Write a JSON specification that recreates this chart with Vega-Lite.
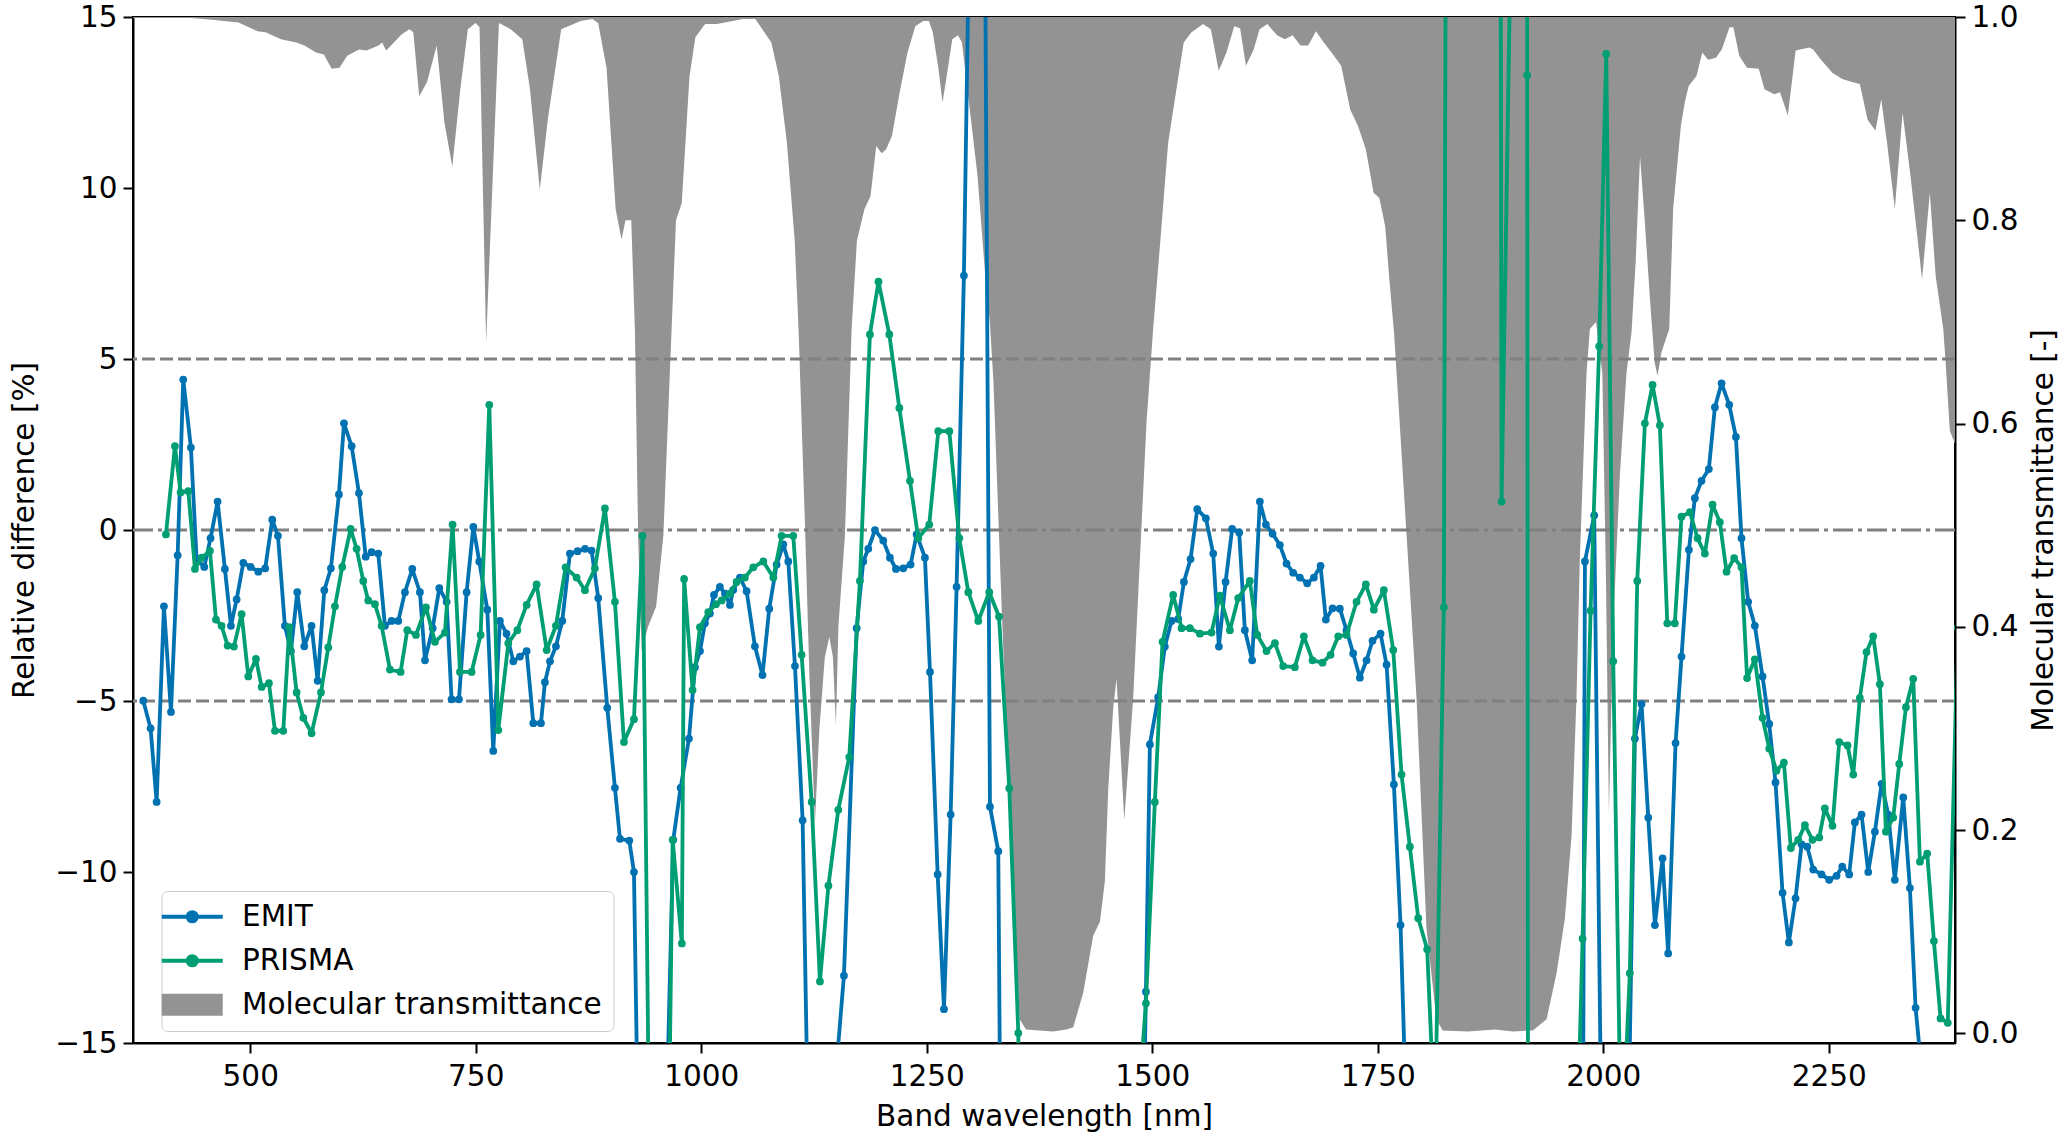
{
 "$schema": "https://vega.github.io/schema/vega-lite/v6.json",
 "width": 1822, "height": 1026,
 "autosize": {"type": "none"},
 "padding": {"left": 133, "top": 17, "right": 106, "bottom": 96},
 "background": "white",
 "config": {
   "font": "DejaVu Sans",
   "view": {"stroke": "black", "strokeWidth": 2},
   "axis": {"grid": false, "labelFont": "DejaVu Sans", "titleFont": "DejaVu Sans", "labelFontSize": 29.5, "titleFontSize": 29.5, "titleFontWeight": "normal", "labelColor": "#000", "titleColor": "#000", "domainColor": "#000", "domainWidth": 2, "tickColor": "#000", "tickWidth": 2, "tickSize": 10, "labelPadding": 6}
 },
 "datasets": {
  "trans": [{"nm":370,"t":0.999},{"nm":435,"t":0.999},{"nm":460,"t":0.997},{"nm":487,"t":0.9945},{"nm":508,"t":0.986},{"nm":517,"t":0.985},{"nm":534,"t":0.978},{"nm":551,"t":0.975},{"nm":560,"t":0.972},{"nm":573,"t":0.965},{"nm":581.6,"t":0.963},{"nm":590.3,"t":0.949},{"nm":598.9,"t":0.95},{"nm":607.5,"t":0.962},{"nm":620.5,"t":0.968},{"nm":629,"t":0.967},{"nm":642,"t":0.972},{"nm":646.3,"t":0.975},{"nm":650.6,"t":0.967},{"nm":659.3,"t":0.975},{"nm":667.9,"t":0.983},{"nm":676.5,"t":0.988},{"nm":680.8,"t":0.985},{"nm":687.3,"t":0.922},{"nm":696,"t":0.936},{"nm":706.7,"t":0.972},{"nm":715.3,"t":0.896},{"nm":724,"t":0.853},{"nm":733,"t":0.93},{"nm":741.2,"t":0.988},{"nm":749.8,"t":0.994},{"nm":754.2,"t":0.99},{"nm":761.5,"t":0.68},{"nm":775.7,"t":0.994},{"nm":788.7,"t":0.988},{"nm":801.6,"t":0.978},{"nm":810,"t":0.93},{"nm":821,"t":0.83},{"nm":830,"t":0.9},{"nm":844.7,"t":0.988},{"nm":866.3,"t":0.996},{"nm":879.2,"t":0.998},{"nm":885.7,"t":0.994},{"nm":895,"t":0.95},{"nm":905.1,"t":0.811},{"nm":911.6,"t":0.781},{"nm":916,"t":0.8},{"nm":922.4,"t":0.8},{"nm":926.5,"t":0.69},{"nm":930,"t":0.49},{"nm":934,"t":0.376},{"nm":941,"t":0.4},{"nm":950,"t":0.42},{"nm":958,"t":0.49},{"nm":967,"t":0.69},{"nm":972,"t":0.8},{"nm":978.4,"t":0.817},{"nm":987,"t":0.942},{"nm":993.5,"t":0.98},{"nm":1004.3,"t":0.993},{"nm":1017.2,"t":0.993},{"nm":1046.6,"t":0.998},{"nm":1060,"t":0.998},{"nm":1077.7,"t":0.975},{"nm":1086,"t":0.942},{"nm":1095,"t":0.876},{"nm":1103.6,"t":0.78},{"nm":1108,"t":0.69},{"nm":1115,"t":0.5},{"nm":1120,"t":0.35},{"nm":1126,"t":0.206},{"nm":1131,"t":0.3},{"nm":1137,"t":0.37},{"nm":1142,"t":0.39},{"nm":1146,"t":0.37},{"nm":1149.3,"t":0.303},{"nm":1152,"t":0.4},{"nm":1159.3,"t":0.49},{"nm":1166.7,"t":0.693},{"nm":1172.6,"t":0.78},{"nm":1181,"t":0.811},{"nm":1187.7,"t":0.824},{"nm":1194,"t":0.873},{"nm":1200,"t":0.866},{"nm":1205,"t":0.87},{"nm":1211.4,"t":0.883},{"nm":1220,"t":0.926},{"nm":1228.7,"t":0.965},{"nm":1237.3,"t":0.991},{"nm":1246,"t":0.996},{"nm":1252.4,"t":0.996},{"nm":1256.7,"t":0.985},{"nm":1263,"t":0.949},{"nm":1267.5,"t":0.916},{"nm":1271.8,"t":0.94},{"nm":1278.3,"t":0.978},{"nm":1284.7,"t":0.982},{"nm":1289,"t":0.975},{"nm":1297.7,"t":0.909},{"nm":1306.3,"t":0.844},{"nm":1314.9,"t":0.745},{"nm":1320,"t":0.7},{"nm":1324,"t":0.64},{"nm":1333,"t":0.42},{"nm":1343,"t":0.2},{"nm":1353,"t":0.014},{"nm":1360,"t":0.004},{"nm":1375,"t":0.003},{"nm":1390,"t":0.002},{"nm":1405,"t":0.004},{"nm":1412.4,"t":0.006},{"nm":1423.5,"t":0.04},{"nm":1434.5,"t":0.096},{"nm":1442,"t":0.11},{"nm":1447.5,"t":0.15},{"nm":1451.2,"t":0.24},{"nm":1456.7,"t":0.32},{"nm":1460.4,"t":0.349},{"nm":1469,"t":0.21},{"nm":1478.9,"t":0.33},{"nm":1486.3,"t":0.466},{"nm":1493.7,"t":0.602},{"nm":1501,"t":0.693},{"nm":1509,"t":0.78},{"nm":1517.6,"t":0.876},{"nm":1526.3,"t":0.926},{"nm":1534.9,"t":0.975},{"nm":1543.5,"t":0.985},{"nm":1556.4,"t":0.993},{"nm":1565,"t":0.988},{"nm":1573.7,"t":0.947},{"nm":1582.3,"t":0.965},{"nm":1590.9,"t":0.991},{"nm":1597.4,"t":0.989},{"nm":1603.9,"t":0.952},{"nm":1612.5,"t":0.968},{"nm":1619,"t":0.988},{"nm":1627.6,"t":0.993},{"nm":1638.4,"t":0.982},{"nm":1647,"t":0.978},{"nm":1655.6,"t":0.982},{"nm":1664.3,"t":0.972},{"nm":1672.9,"t":0.972},{"nm":1681.5,"t":0.986},{"nm":1690.2,"t":0.975},{"nm":1698.8,"t":0.965},{"nm":1709.5,"t":0.952},{"nm":1719.5,"t":0.909},{"nm":1728,"t":0.893},{"nm":1736.8,"t":0.87},{"nm":1745.4,"t":0.827},{"nm":1751.8,"t":0.822},{"nm":1758.3,"t":0.794},{"nm":1762.6,"t":0.745},{"nm":1768,"t":0.69},{"nm":1773,"t":0.62},{"nm":1782,"t":0.49},{"nm":1793,"t":0.33},{"nm":1804,"t":0.104},{"nm":1815,"t":0.014},{"nm":1822,"t":0.003},{"nm":1850,"t":0.002},{"nm":1880,"t":0.004},{"nm":1900,"t":0.002},{"nm":1922,"t":0.003},{"nm":1937.2,"t":0.014},{"nm":1948.2,"t":0.059},{"nm":1957.5,"t":0.113},{"nm":1964.9,"t":0.195},{"nm":1970.4,"t":0.332},{"nm":1974.1,"t":0.468},{"nm":1977.8,"t":0.559},{"nm":1981.5,"t":0.65},{"nm":1985.2,"t":0.693},{"nm":1992,"t":0.7},{"nm":1999,"t":0.65},{"nm":2003,"t":0.45},{"nm":2006.3,"t":0.217},{"nm":2011,"t":0.4},{"nm":2018.5,"t":0.55},{"nm":2025.8,"t":0.65},{"nm":2031.4,"t":0.69},{"nm":2036,"t":0.76},{"nm":2040.8,"t":0.863},{"nm":2046,"t":0.8},{"nm":2052,"t":0.72},{"nm":2057,"t":0.66},{"nm":2060.2,"t":0.647},{"nm":2064.5,"t":0.67},{"nm":2073.2,"t":0.693},{"nm":2077.5,"t":0.811},{"nm":2086.1,"t":0.893},{"nm":2090.4,"t":0.916},{"nm":2094.7,"t":0.932},{"nm":2103.4,"t":0.942},{"nm":2109.8,"t":0.965},{"nm":2116.3,"t":0.958},{"nm":2124.9,"t":0.96},{"nm":2131.4,"t":0.968},{"nm":2140,"t":0.99},{"nm":2144.3,"t":0.99},{"nm":2150.8,"t":0.962},{"nm":2159.4,"t":0.95},{"nm":2172.4,"t":0.949},{"nm":2178.8,"t":0.929},{"nm":2189.6,"t":0.924},{"nm":2196,"t":0.926},{"nm":2204.7,"t":0.903},{"nm":2213.3,"t":0.967},{"nm":2228.4,"t":0.97},{"nm":2232.7,"t":0.968},{"nm":2241.4,"t":0.958},{"nm":2254.3,"t":0.945},{"nm":2265.1,"t":0.939},{"nm":2275.9,"t":0.936},{"nm":2284.5,"t":0.934},{"nm":2293.1,"t":0.899},{"nm":2301.8,"t":0.888},{"nm":2308.2,"t":0.919},{"nm":2314.7,"t":0.876},{"nm":2323.3,"t":0.811},{"nm":2331.9,"t":0.906},{"nm":2340.6,"t":0.844},{"nm":2353.5,"t":0.742},{"nm":2362.1,"t":0.827},{"nm":2368.6,"t":0.745},{"nm":2377,"t":0.693},{"nm":2379.4,"t":0.663},{"nm":2384.3,"t":0.593},{"nm":2390,"t":0.58}],
  "emit": [{"nm":381.4,"v":-4.99},{"nm":389.5,"v":-5.8},{"nm":396.2,"v":-7.95},{"nm":404.3,"v":-2.23},{"nm":412.1,"v":-5.32},{"nm":419.5,"v":-0.74},{"nm":425.7,"v":4.4},{"nm":434.2,"v":2.41},{"nm":440.5,"v":-0.85},{"nm":449,"v":-1.08},{"nm":456,"v":-0.24},{"nm":463.8,"v":0.83},{"nm":471.9,"v":-1.14},{"nm":478.6,"v":-2.8},{"nm":484.9,"v":-2.03},{"nm":492.3,"v":-0.96},{"nm":500.4,"v":-1.08},{"nm":508.9,"v":-1.22},{"nm":516.6,"v":-1.12},{"nm":524.4,"v":0.3},{"nm":530.7,"v":-0.17},{"nm":538.4,"v":-2.8},{"nm":545.1,"v":-3.54},{"nm":552.1,"v":-1.82},{"nm":559.9,"v":-3.4},{"nm":568,"v":-2.8},{"nm":574.7,"v":-4.41},{"nm":582.1,"v":-1.76},{"nm":589.4,"v":-1.12},{"nm":598.3,"v":1.04},{"nm":603.9,"v":3.12},{"nm":612.4,"v":2.45},{"nm":620.5,"v":1.08},{"nm":628,"v":-0.78},{"nm":634.5,"v":-0.65},{"nm":641.9,"v":-0.69},{"nm":649.3,"v":-2.8},{"nm":656.7,"v":-2.66},{"nm":664.1,"v":-2.66},{"nm":671.5,"v":-1.82},{"nm":679.6,"v":-1.14},{"nm":688.1,"v":-1.82},{"nm":693.7,"v":-3.81},{"nm":702.2,"v":-2.87},{"nm":709.6,"v":-1.7},{"nm":717.7,"v":-2.1},{"nm":723.2,"v":-4.95},{"nm":731.4,"v":-4.95},{"nm":739.9,"v":-1.82},{"nm":747.3,"v":0.09},{"nm":753.9,"v":-0.92},{"nm":762.8,"v":-2.33},{"nm":769.4,"v":-6.46},{"nm":776.8,"v":-2.66},{"nm":784.2,"v":-3.03},{"nm":791.6,"v":-3.84},{"nm":799,"v":-3.7},{"nm":806.4,"v":-3.54},{"nm":813.8,"v":-5.65},{"nm":822.3,"v":-5.65},{"nm":826.7,"v":-4.45},{"nm":832.3,"v":-3.84},{"nm":838.9,"v":-3.4},{"nm":845.9,"v":-2.66},{"nm":854.4,"v":-0.69},{"nm":862.9,"v":-0.62},{"nm":871.1,"v":-0.55},{"nm":878.4,"v":-0.6},{"nm":885.8,"v":-1.99},{"nm":895.8,"v":-5.2},{"nm":904.3,"v":-7.54},{"nm":909.9,"v":-9.03},{"nm":920.2,"v":-9.08},{"nm":925.4,"v":-10},{"nm":932.8,"v":-22.5},{"nm":940.2,"v":-45},{"nm":947.6,"v":-60},{"nm":955,"v":-45},{"nm":961.6,"v":-17},{"nm":969,"v":-9.06},{"nm":977.1,"v":-7.54},{"nm":986.4,"v":-6.1},{"nm":993,"v":-4.01},{"nm":998.6,"v":-3.54},{"nm":1004.1,"v":-2.73},{"nm":1009.6,"v":-2.44},{"nm":1014.1,"v":-1.9},{"nm":1020.7,"v":-1.66},{"nm":1026.3,"v":-1.86},{"nm":1031.8,"v":-2.19},{"nm":1035.5,"v":-1.75},{"nm":1042.9,"v":-1.39},{"nm":1050.3,"v":-1.79},{"nm":1059.5,"v":-3.4},{"nm":1067.9,"v":-4.24},{"nm":1075.4,"v":-2.3},{"nm":1083.6,"v":-1.01},{"nm":1091,"v":-0.42},{"nm":1096.5,"v":-0.92},{"nm":1103.9,"v":-3.98},{"nm":1112.4,"v":-8.49},{"nm":1119.8,"v":-19.5},{"nm":1127.2,"v":-35},{"nm":1134.6,"v":-40},{"nm":1142,"v":-30},{"nm":1150.8,"v":-15.4},{"nm":1158.2,"v":-13.03},{"nm":1172.3,"v":-2.87},{"nm":1179.6,"v":-0.92},{"nm":1185.2,"v":-0.55},{"nm":1192.6,"v":0},{"nm":1201.8,"v":-0.31},{"nm":1209.2,"v":-0.81},{"nm":1215.9,"v":-1.14},{"nm":1224,"v":-1.12},{"nm":1232.1,"v":-1.01},{"nm":1238.8,"v":-0.13},{"nm":1248,"v":-0.81},{"nm":1253.6,"v":-4.15},{"nm":1262.1,"v":-10.07},{"nm":1269.1,"v":-14.01},{"nm":1276.5,"v":-8.32},{"nm":1283.1,"v":-1.66},{"nm":1291.2,"v":7.44},{"nm":1298.5,"v":20},{"nm":1306,"v":45},{"nm":1313,"v":25},{"nm":1320.1,"v":-8.09},{"nm":1329.3,"v":-9.39},{"nm":1336.5,"v":-35},{"nm":1344,"v":-60},{"nm":1351.5,"v":-80},{"nm":1359,"v":-100},{"nm":1366.5,"v":-100},{"nm":1374,"v":-100},{"nm":1381.5,"v":-100},{"nm":1389,"v":-100},{"nm":1396.5,"v":-100},{"nm":1404,"v":-100},{"nm":1411.5,"v":-100},{"nm":1419,"v":-100},{"nm":1426.5,"v":-90},{"nm":1434,"v":-90},{"nm":1441.5,"v":-80},{"nm":1449,"v":-70},{"nm":1456.5,"v":-60},{"nm":1464,"v":-50},{"nm":1471.5,"v":-40},{"nm":1478.5,"v":-30},{"nm":1485.6,"v":-25},{"nm":1493,"v":-13.5},{"nm":1497.4,"v":-6.27},{"nm":1506.6,"v":-4.89},{"nm":1514,"v":-3.41},{"nm":1521.4,"v":-2.66},{"nm":1528.8,"v":-2.6},{"nm":1535.1,"v":-1.52},{"nm":1542.5,"v":-0.85},{"nm":1549.9,"v":0.61},{"nm":1559.5,"v":0.34},{"nm":1567.6,"v":-0.69},{"nm":1573.9,"v":-3.41},{"nm":1581.3,"v":-1.52},{"nm":1588.6,"v":0.03},{"nm":1596.4,"v":-0.07},{"nm":1602.7,"v":-2.93},{"nm":1610.8,"v":-3.81},{"nm":1619.3,"v":0.83},{"nm":1626,"v":0.16},{"nm":1633.4,"v":-0.11},{"nm":1641.5,"v":-0.44},{"nm":1648.9,"v":-0.98},{"nm":1656.3,"v":-1.25},{"nm":1663.7,"v":-1.39},{"nm":1671.8,"v":-1.56},{"nm":1679.2,"v":-1.39},{"nm":1686.6,"v":-1.05},{"nm":1692.5,"v":-2.62},{"nm":1699.9,"v":-2.29},{"nm":1708,"v":-2.3},{"nm":1715.4,"v":-2.93},{"nm":1722.8,"v":-3.61},{"nm":1730.2,"v":-4.32},{"nm":1737.6,"v":-3.81},{"nm":1744.2,"v":-3.24},{"nm":1753.1,"v":-3.03},{"nm":1759.8,"v":-3.94},{"nm":1767.9,"v":-7.44},{"nm":1775.3,"v":-11.55},{"nm":1782.7,"v":-18},{"nm":1790,"v":-40},{"nm":1797.5,"v":-60},{"nm":1805,"v":-80},{"nm":1812.5,"v":-100},{"nm":1820,"v":-100},{"nm":1827.5,"v":-100},{"nm":1835,"v":-100},{"nm":1842.5,"v":-100},{"nm":1850,"v":-100},{"nm":1857.5,"v":-100},{"nm":1865,"v":-100},{"nm":1872.5,"v":-100},{"nm":1880,"v":-100},{"nm":1887.5,"v":-100},{"nm":1895,"v":-100},{"nm":1902.5,"v":-100},{"nm":1910,"v":-100},{"nm":1917.5,"v":-100},{"nm":1925,"v":-100},{"nm":1932.5,"v":-100},{"nm":1940,"v":-100},{"nm":1947.5,"v":-100},{"nm":1955,"v":-90},{"nm":1962.5,"v":-80},{"nm":1972.3,"v":-60},{"nm":1979.7,"v":-0.92},{"nm":1990,"v":0.43},{"nm":1997.4,"v":-16.5},{"nm":2005,"v":-40},{"nm":2012.5,"v":-50},{"nm":2020,"v":-40},{"nm":2027.7,"v":-17.9},{"nm":2035.1,"v":-6.1},{"nm":2042.5,"v":-5.09},{"nm":2049.9,"v":-8.41},{"nm":2057.3,"v":-11.55},{"nm":2065.8,"v":-9.6},{"nm":2072,"v":-12.38},{"nm":2080.2,"v":-6.23},{"nm":2086.8,"v":-3.7},{"nm":2095,"v":-0.58},{"nm":2101.6,"v":0.93},{"nm":2109,"v":1.44},{"nm":2117.1,"v":1.78},{"nm":2123.8,"v":3.59},{"nm":2131.2,"v":4.29},{"nm":2139.7,"v":3.66},{"nm":2147.1,"v":2.72},{"nm":2153.3,"v":-0.24},{"nm":2160.7,"v":-2.1},{"nm":2168.1,"v":-2.8},{"nm":2176.6,"v":-4.28},{"nm":2184,"v":-5.67},{"nm":2191,"v":-7.38},{"nm":2198.8,"v":-10.61},{"nm":2205.8,"v":-12.06},{"nm":2213.2,"v":-10.77},{"nm":2219.9,"v":-9.19},{"nm":2226.2,"v":-9.26},{"nm":2232.8,"v":-9.93},{"nm":2242,"v":-10.07},{"nm":2250.5,"v":-10.23},{"nm":2258.7,"v":-10.11},{"nm":2265,"v":-9.84},{"nm":2272.7,"v":-10.07},{"nm":2279,"v":-8.55},{"nm":2286.4,"v":-8.32},{"nm":2293.8,"v":-10},{"nm":2301.2,"v":-8.82},{"nm":2308.6,"v":-7.42},{"nm":2316,"v":-8.32},{"nm":2323.3,"v":-10.23},{"nm":2332.6,"v":-7.82},{"nm":2340,"v":-10.47},{"nm":2346.3,"v":-13.97},{"nm":2353.7,"v":-16},{"nm":2361,"v":-30},{"nm":2368.5,"v":-30},{"nm":2376,"v":-30},{"nm":2383.5,"v":-30},{"nm":2391,"v":-30}],
  "prisma": [{"nm":406.5,"v":-0.13},{"nm":416.5,"v":2.45},{"nm":422.8,"v":1.1},{"nm":431.3,"v":1.14},{"nm":438.7,"v":-1.14},{"nm":446.1,"v":-0.81},{"nm":455.3,"v":-0.61},{"nm":462,"v":-2.62},{"nm":468.2,"v":-2.8},{"nm":474.9,"v":-3.38},{"nm":481.9,"v":-3.41},{"nm":490.4,"v":-2.46},{"nm":497.8,"v":-4.28},{"nm":506.3,"v":-3.77},{"nm":512.6,"v":-4.59},{"nm":520.7,"v":-4.48},{"nm":527.4,"v":-5.87},{"nm":536.6,"v":-5.87},{"nm":543.3,"v":-2.84},{"nm":551.4,"v":-4.75},{"nm":558.8,"v":-5.49},{"nm":568,"v":-5.94},{"nm":578.4,"v":-4.75},{"nm":586.5,"v":-3.43},{"nm":593.9,"v":-2.23},{"nm":602,"v":-1.08},{"nm":611.3,"v":0.03},{"nm":617.9,"v":-0.55},{"nm":625.3,"v":-1.49},{"nm":630.8,"v":-2.06},{"nm":638.2,"v":-2.17},{"nm":645.6,"v":-2.8},{"nm":654.9,"v":-4.08},{"nm":666.7,"v":-4.15},{"nm":674.1,"v":-2.93},{"nm":683.7,"v":-3.07},{"nm":694.8,"v":-2.26},{"nm":704.8,"v":-3.27},{"nm":715.8,"v":-3},{"nm":724.3,"v":0.16},{"nm":732.5,"v":-4.15},{"nm":745.4,"v":-4.15},{"nm":755.4,"v":-3.07},{"nm":765,"v":3.66},{"nm":775,"v":-5.85},{"nm":786.1,"v":-3.31},{"nm":796.1,"v":-2.93},{"nm":806.4,"v":-2.19},{"nm":817.5,"v":-1.59},{"nm":828.6,"v":-3.51},{"nm":838.9,"v":-2.8},{"nm":849.6,"v":-1.09},{"nm":861.8,"v":-1.39},{"nm":871.1,"v":-1.76},{"nm":882.1,"v":-1.12},{"nm":893.2,"v":0.63},{"nm":904.3,"v":-2.1},{"nm":914.3,"v":-6.2},{"nm":925.4,"v":-5.53},{"nm":935,"v":-0.17},{"nm":944,"v":-22},{"nm":952,"v":-40},{"nm":960,"v":-26},{"nm":968.3,"v":-9.06},{"nm":978.5,"v":-12.09},{"nm":981,"v":-1.43},{"nm":990.4,"v":-4.68},{"nm":998.6,"v":-2.84},{"nm":1007.8,"v":-2.4},{"nm":1016.3,"v":-2.17},{"nm":1022.6,"v":-2.06},{"nm":1031.8,"v":-1.86},{"nm":1039.2,"v":-1.52},{"nm":1048.4,"v":-1.39},{"nm":1057.7,"v":-1.09},{"nm":1068.8,"v":-0.92},{"nm":1079.9,"v":-1.39},{"nm":1089.1,"v":-0.17},{"nm":1102,"v":-0.17},{"nm":1111.3,"v":-3.65},{"nm":1122.4,"v":-7.95},{"nm":1131.6,"v":-13.2},{"nm":1141,"v":-10.4},{"nm":1151.9,"v":-8.18},{"nm":1164.1,"v":-6.64},{"nm":1175.9,"v":-1.49},{"nm":1187,"v":5.72},{"nm":1196.5,"v":7.26},{"nm":1208.5,"v":5.72},{"nm":1219.6,"v":3.57},{"nm":1231.4,"v":1.44},{"nm":1240.6,"v":-0.24},{"nm":1252.8,"v":0.16},{"nm":1262.8,"v":2.89},{"nm":1275,"v":2.89},{"nm":1286.1,"v":-0.24},{"nm":1296.1,"v":-1.82},{"nm":1307.1,"v":-2.66},{"nm":1319.3,"v":-1.82},{"nm":1330.1,"v":-2.53},{"nm":1341.5,"v":-7.55},{"nm":1351.5,"v":-14.71},{"nm":1361,"v":-35},{"nm":1371,"v":-60},{"nm":1381,"v":-80},{"nm":1391,"v":-100},{"nm":1401,"v":-100},{"nm":1411,"v":-100},{"nm":1421,"v":-100},{"nm":1431,"v":-90},{"nm":1441,"v":-80},{"nm":1451,"v":-60},{"nm":1461,"v":-50},{"nm":1470,"v":-40},{"nm":1477,"v":-30},{"nm":1484,"v":-17},{"nm":1493,"v":-13.84},{"nm":1502.9,"v":-7.95},{"nm":1511.4,"v":-3.27},{"nm":1523.2,"v":-1.9},{"nm":1532.5,"v":-2.87},{"nm":1541.7,"v":-2.87},{"nm":1552.8,"v":-3.03},{"nm":1565.7,"v":-3},{"nm":1575,"v":-1.92},{"nm":1586.1,"v":-2.93},{"nm":1595.3,"v":-1.99},{"nm":1608.2,"v":-1.49},{"nm":1616.4,"v":-3.07},{"nm":1626.7,"v":-3.54},{"nm":1636,"v":-3.31},{"nm":1645.2,"v":-3.98},{"nm":1658.1,"v":-4.01},{"nm":1668.1,"v":-3.11},{"nm":1677.7,"v":-3.81},{"nm":1688.8,"v":-3.88},{"nm":1697.7,"v":-3.65},{"nm":1706.2,"v":-3.11},{"nm":1715.4,"v":-3.07},{"nm":1726.5,"v":-2.1},{"nm":1736.8,"v":-1.59},{"nm":1745.7,"v":-2.33},{"nm":1756.8,"v":-1.76},{"nm":1767.2,"v":-3.51},{"nm":1776.4,"v":-7.15},{"nm":1785.6,"v":-9.26},{"nm":1794.9,"v":-11.35},{"nm":1804.8,"v":-12.26},{"nm":1813.5,"v":-17.5},{"nm":1823.3,"v":-2.26},{"nm":1832,"v":80},{"nm":1841,"v":100},{"nm":1850,"v":120},{"nm":1860,"v":100},{"nm":1869,"v":120},{"nm":1878,"v":150},{"nm":1887.3,"v":0.83},{"nm":1897,"v":16.5},{"nm":1906,"v":300},{"nm":1915.7,"v":13.3},{"nm":1925,"v":-300},{"nm":1934,"v":-300},{"nm":1943,"v":-200},{"nm":1951,"v":-200},{"nm":1960,"v":-100},{"nm":1968,"v":-21},{"nm":1977.1,"v":-11.95},{"nm":1986,"v":-2.36},{"nm":1995.5,"v":5.37},{"nm":2003.3,"v":13.92},{"nm":2011.1,"v":-3.84},{"nm":2020,"v":-18.5},{"nm":2029.5,"v":-12.96},{"nm":2037.7,"v":-1.49},{"nm":2046.2,"v":3.12},{"nm":2054.7,"v":4.24},{"nm":2062.8,"v":3.06},{"nm":2071,"v":-2.73},{"nm":2079.4,"v":-2.73},{"nm":2086.8,"v":0.39},{"nm":2096.1,"v":0.52},{"nm":2104.6,"v":-0.24},{"nm":2112.7,"v":-0.69},{"nm":2121.2,"v":0.74},{"nm":2129.3,"v":0.23},{"nm":2136.7,"v":-1.22},{"nm":2145.2,"v":-0.82},{"nm":2153.3,"v":-1.09},{"nm":2159.5,"v":-4.33},{"nm":2168.1,"v":-3.78},{"nm":2176.6,"v":-5.49},{"nm":2184,"v":-6.39},{"nm":2192.2,"v":-7.04},{"nm":2200.3,"v":-6.8},{"nm":2208,"v":-9.3},{"nm":2216.2,"v":-9.06},{"nm":2223.6,"v":-8.63},{"nm":2232,"v":-9.06},{"nm":2239.5,"v":-8.99},{"nm":2245.7,"v":-8.14},{"nm":2254.2,"v":-8.65},{"nm":2261.6,"v":-6.2},{"nm":2270.9,"v":-6.3},{"nm":2277.2,"v":-7.15},{"nm":2284.5,"v":-4.91},{"nm":2291.9,"v":-3.57},{"nm":2299.3,"v":-3.11},{"nm":2306.7,"v":-4.51},{"nm":2313.4,"v":-8.82},{"nm":2321.5,"v":-8.41},{"nm":2328.2,"v":-6.84},{"nm":2335.6,"v":-5.18},{"nm":2343.7,"v":-4.35},{"nm":2351.1,"v":-9.7},{"nm":2359.2,"v":-9.46},{"nm":2366.6,"v":-12.02},{"nm":2374,"v":-14.28},{"nm":2382,"v":-14.41},{"nm":2393,"v":-2.85}]
 },
 "layer": [
  {
   "data": {"name": "trans"},
   "mark": {"type": "area", "clip": true, "opacity": 1},
   "encoding": {
     "x": {"field": "nm", "type": "quantitative", "scale": {"domain": [370, 2390], "nice": false, "zero": false}, "axis": {"values": [500,750,1000,1250,1500,1750,2000,2250], "format": "d", "title": "Band wavelength [nm]", "titlePadding": 12, "labelPadding": 9}},
     "y": {"field": "t", "type": "quantitative", "scale": {"domain": [-0.0094, 1], "nice": false, "zero": false}, "axis": {"orient": "right", "values": [0,0.2,0.4,0.6,0.8,1], "format": ".1f", "title": "Molecular transmittance [-]", "titlePadding": 12, "titleAngle": 270, "titleBaseline": "top"}},
     "y2": {"datum": 1},
     "color": {"datum": "Molecular transmittance", "scale": {"domain": ["EMIT","PRISMA","Molecular transmittance"], "range": ["#0072B2","#009E73","#939393"]},
       "legend": {"title": null, "orient": "none", "legendX": 28.5, "legendY": 874, "padding": 11, "fillColor": "rgba(255,255,255,0.85)", "strokeColor": "#cccccc", "cornerRadius": 6, "labelFontSize": 29.5, "labelLimit": 1000, "labelColor": "#000", "labelFont": "DejaVu Sans", "symbolSize": 3721, "rowPadding": 13, "symbolOffset": 5, "labelOffset": 35, "symbolStrokeWidth": 4, "symbolOpacity": 1, "values": ["EMIT","PRISMA","Molecular transmittance"],
         "encode": {"symbols": {"update": {
           "shape": {"signal": "datum.value === 'Molecular transmittance' ? 'M-1,-0.36H1V0.36H-1Z' : 'M-1,0H1M-0.15,0A0.15,0.15,0,1,0,0.15,0A0.15,0.15,0,1,0,-0.15,0Z'"},
           "fill": {"signal": "scale('color', datum.value)"},
           "stroke": {"signal": "scale('color', datum.value)"},
           "strokeWidth": {"signal": "datum.value === 'Molecular transmittance' ? 0 : 4"},
           "opacity": {"value": 1}, "fillOpacity": {"value": 1}, "strokeOpacity": {"value": 1}}}}}}
   }
  },
  {
   "layer": [
    {"data": {"values": [{}]}, "mark": {"type": "rule", "color": "#808080", "strokeWidth": 3, "strokeDash": [13, 5]}, "encoding": {"y": {"datum": 5, "type": "quantitative", "scale": {"domain": [-15, 15], "nice": false, "zero": false}}}},
    {"data": {"values": [{}]}, "mark": {"type": "rule", "color": "#808080", "strokeWidth": 3, "strokeDash": [13, 5]}, "encoding": {"y": {"datum": -5, "type": "quantitative"}}},
    {"data": {"values": [{}]}, "mark": {"type": "rule", "color": "#808080", "strokeWidth": 3, "strokeDash": [20, 5, 4, 5]}, "encoding": {"y": {"datum": 0, "type": "quantitative"}}},
    {"data": {"name": "emit"}, "mark": {"type": "line", "clip": true, "strokeWidth": 3.8, "strokeJoin": "round"},
     "encoding": {"x": {"field": "nm", "type": "quantitative"}, "y": {"field": "v", "type": "quantitative", "scale": {"domain": [-15, 15], "nice": false, "zero": false}, "axis": {"orient": "left", "values": [-15,-10,-5,0,5,10,15], "title": "Relative difference [%]", "titlePadding": 15}}, "color": {"datum": "EMIT"}}},
    {"data": {"name": "emit"}, "mark": {"type": "point", "clip": true, "filled": true, "size": 60, "opacity": 1},
     "encoding": {"x": {"field": "nm", "type": "quantitative"}, "y": {"field": "v", "type": "quantitative"}, "color": {"datum": "EMIT"}}},
    {"data": {"name": "prisma"}, "mark": {"type": "line", "clip": true, "strokeWidth": 3.8, "strokeJoin": "round"},
     "encoding": {"x": {"field": "nm", "type": "quantitative"}, "y": {"field": "v", "type": "quantitative"}, "color": {"datum": "PRISMA"}}},
    {"data": {"name": "prisma"}, "mark": {"type": "point", "clip": true, "filled": true, "size": 60, "opacity": 1},
     "encoding": {"x": {"field": "nm", "type": "quantitative"}, "y": {"field": "v", "type": "quantitative"}, "color": {"datum": "PRISMA"}}}
   ]
  }
 ],
 "resolve": {"scale": {"y": "independent"}, "axis": {"y": "independent"}}
}
